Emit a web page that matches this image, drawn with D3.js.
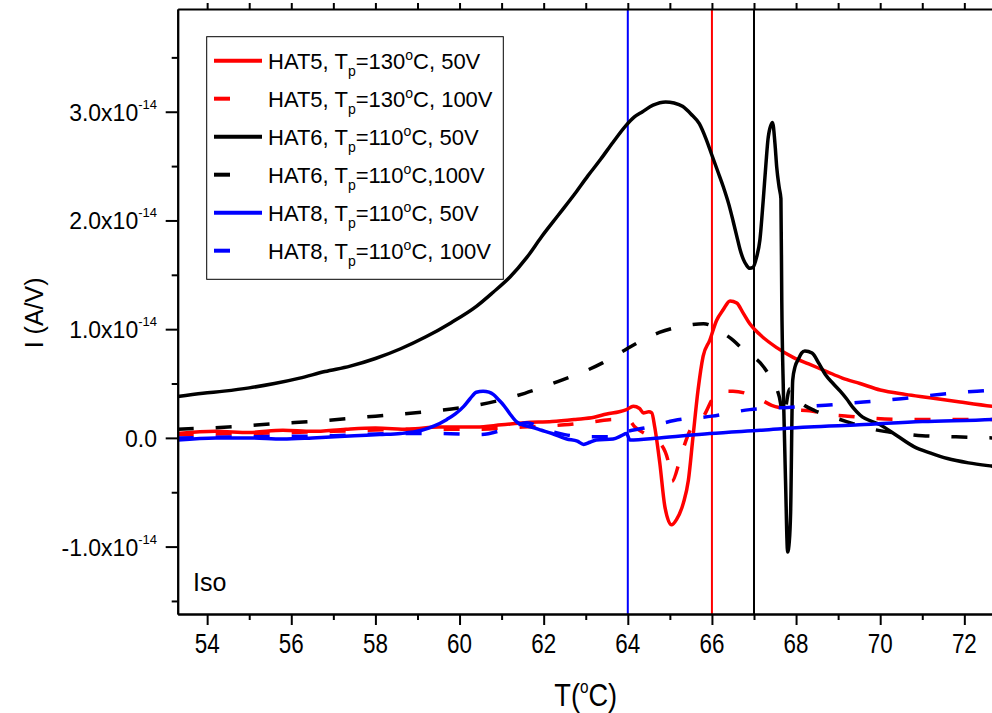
<!DOCTYPE html>
<html>
<head>
<meta charset="utf-8">
<script src="https://cdn.jsdelivr.net/npm/d3@7"></script>
<style>
body { margin: 0; background: #fff; }
svg { display: block; }
text { font-family: "Liberation Sans", Arial, sans-serif; fill: #000; }
</style>
</head>
<body>
<div id="chart"></div>
<script>
//
// TSC current vs temperature, values in units of 1e-14 A/V
//

// [T (degC), I (1e-14 A/V)]
var hat5_50V = [[53.3,0.04],[54.2,0.06],[55,0.05],[55.8,0.07],[56.5,0.06],[57.3,0.08],[58,0.09],[58.8,0.08],[59.5,0.10],[60.4,0.10],[61,0.12],[61.55,0.14],[62.2,0.15],[62.75,0.17],[63.2,0.19],[63.5,0.22],[63.8,0.24],[63.97,0.26],[64.13,0.29],[64.28,0.27],[64.37,0.23],[64.5,0.24],[64.57,0.23],[64.64,0.10],[64.76,-0.23],[64.88,-0.63],[65.04,-0.80],[65.16,-0.75],[65.32,-0.60],[65.44,-0.39],[65.55,0.01],[65.67,0.44],[65.79,0.75],[65.95,0.90],[66.11,1.08],[66.27,1.18],[66.43,1.26],[66.59,1.24],[66.74,1.15],[66.9,1.05],[67.14,0.95],[67.54,0.83],[67.93,0.74],[68.3,0.68],[68.73,0.61],[69.1,0.55],[69.52,0.50],[70.0,0.44],[70.6,0.40],[71.18,0.37],[71.9,0.33],[72.66,0.29],[73.1,0.27]];
var hat5_100V = [[53.3,0.03],[55,0.04],[57,0.06],[59,0.08],[60.5,0.08],[61.5,0.10],[62.5,0.12],[63.2,0.15],[63.65,0.17],[64.0,0.17],[64.17,0.10],[64.53,0.01],[64.81,-0.07],[64.95,-0.20],[65.05,-0.40],[65.24,-0.20],[65.36,-0.05],[65.52,0.10],[65.79,0.19],[66.0,0.35],[66.14,0.43],[66.5,0.43],[67.07,0.37],[67.42,0.30],[67.92,0.26],[68.32,0.25],[68.87,0.21],[69.23,0.20],[69.8,0.18],[70.5,0.17],[71.5,0.17],[73.1,0.17]];
var hat6_50V = [[53.3,0.38],[53.9,0.41],[54.4,0.43],[55.0,0.46],[55.6,0.50],[56.2,0.55],[56.8,0.61],[57.4,0.66],[58.0,0.73],[58.6,0.82],[59.2,0.93],[59.8,1.06],[60.4,1.21],[60.8,1.34],[61.2,1.48],[61.6,1.66],[61.95,1.85],[62.35,2.05],[62.75,2.25],[63.05,2.41],[63.35,2.56],[63.65,2.72],[63.95,2.87],[64.15,2.95],[64.35,3.00],[64.6,3.06],[64.9,3.09],[65.1,3.08],[65.3,3.05],[65.5,2.98],[65.7,2.89],[65.85,2.76],[66.0,2.60],[66.14,2.45],[66.27,2.31],[66.4,2.15],[66.5,2.00],[66.6,1.84],[66.67,1.73],[66.75,1.64],[66.82,1.59],[66.9,1.56],[66.98,1.57],[67.06,1.66],[67.14,1.82],[67.22,2.19],[67.28,2.50],[67.34,2.77],[67.44,2.90],[67.5,2.70],[67.54,2.49],[67.6,2.30],[67.64,2.20],[67.66,1.27],[67.7,0.40],[67.75,-0.40],[67.8,-1.05],[67.84,-0.95],[67.87,-0.69],[67.92,0.53],[67.98,0.66],[68.05,0.72],[68.13,0.78],[68.21,0.80],[68.38,0.78],[68.55,0.68],[68.7,0.58],[68.88,0.50],[69.05,0.43],[69.2,0.36],[69.35,0.28],[69.52,0.21],[70.0,0.12],[70.4,0.02],[70.8,-0.08],[71.2,-0.14],[71.6,-0.19],[72.1,-0.23],[72.66,-0.26],[73.1,-0.28]];
var hat6_100V = [[53.3,0.08],[54.5,0.10],[55.6,0.13],[56.8,0.16],[58.0,0.20],[59.2,0.24],[60.4,0.30],[61.0,0.35],[61.55,0.41],[62.35,0.52],[62.9,0.60],[63.4,0.69],[63.85,0.79],[64.3,0.89],[64.75,0.97],[65.2,1.02],[65.5,1.04],[65.8,1.05],[66.0,1.03],[66.2,0.98],[66.5,0.90],[66.8,0.79],[67.15,0.69],[67.4,0.55],[67.6,0.38],[67.7,0.20],[67.85,0.45],[68.1,0.33],[68.45,0.25],[68.8,0.20],[69.2,0.15],[69.6,0.10],[70.1,0.06],[70.5,0.04],[71.0,0.02],[71.8,0.01],[72.66,0.0],[73.1,0.0]];
var hat8_50V = [[53.3,-0.02],[54.2,0.0],[55,0.0],[55.8,-0.01],[56.5,0.0],[57.5,0.02],[58.1,0.03],[58.6,0.04],[59.1,0.07],[59.4,0.11],[59.7,0.17],[59.9,0.22],[60.1,0.29],[60.25,0.36],[60.4,0.42],[60.56,0.43],[60.7,0.42],[60.8,0.40],[60.93,0.35],[61.05,0.30],[61.2,0.22],[61.35,0.15],[61.5,0.12],[61.7,0.10],[61.95,0.07],[62.2,0.04],[62.55,-0.01],[62.8,-0.03],[62.95,-0.06],[63.1,-0.04],[63.25,-0.02],[63.65,-0.01],[63.85,0.02],[63.97,0.04],[64.05,-0.02],[64.75,0.0],[65.95,0.04],[67.15,0.07],[68.3,0.10],[69.5,0.12],[71.0,0.15],[72.66,0.17],[73.1,0.18]];
var hat8_100V = [[53.3,0.0],[55,0.01],[57,0.02],[58.5,0.04],[59.5,0.04],[60.5,0.03],[61.0,0.07],[61.3,0.11],[61.6,0.14],[62,0.08],[62.5,0.03],[63,0.01],[63.6,0.01],[64,0.06],[64.5,0.10],[65.1,0.16],[66.0,0.20],[66.9,0.26],[67.8,0.28],[68.7,0.30],[69.6,0.33],[70.5,0.36],[71.4,0.40],[72.3,0.43],[73.1,0.45]];

var seriesNames = ["HAT5", "HAT5", "HAT6", "HAT6", "HAT8", "HAT8"];
var seriesTp = ["130", "130", "110", "110", "110", "110"];
var seriesVolt = [", 50V", ", 100V", ", 50V", ",100V", ", 50V", ", 100V"];
var seriesData = [hat5_50V, hat5_100V, hat6_50V, hat6_100V, hat8_50V, hat8_100V];

var markerTemps = [64, 66, 67];

var xMajor = [54, 56, 58, 60, 62, 64, 66, 68, 70, 72];
var xMinor = [55, 57, 59, 61, 63, 65, 67, 69, 71, 73];
var yMajor = [-1, 0, 1, 2, 3];
var yMinor = [-1.5, -0.5, 0.5, 1.5, 2.5, 3.5];

const _width = 992;
const _height = 713;
const _plotLeft = 177.7;
const _plotRight = 1010.6;
const _plotTop = 9;
const _plotBottom = 614;

var _colors = ['#ff0000', '#ff0000', '#000000', '#000000', '#0000ff', '#0000ff'];
var _markerColors = ['#0000ff', '#ff0000', '#000000'];
var _dashed = [false, true, false, true, false, true];

var svg = d3.select("#chart").append("svg")
    .attr("width", _width)
    .attr("height", _height);

svg.append("rect").attr("width", _width).attr("height", _height).attr("fill", "#fff");

var x = d3.scaleLinear().domain([53.3, 73.1]).range([_plotLeft, _plotRight]);
var y = d3.scaleLinear().domain([-1.62, 3.945]).range([_plotBottom, _plotTop]);

svg.append("clipPath").attr("id", "plotClip")
    .append("rect")
    .attr("x", _plotLeft).attr("y", _plotTop)
    .attr("width", _plotRight - _plotLeft).attr("height", _plotBottom - _plotTop);

// vertical markers
svg.append("g")
    .selectAll("line")
    .data(markerTemps)
    .join("line")
    .attr("x1", d => x(d)).attr("x2", d => x(d))
    .attr("y1", _plotTop).attr("y2", _plotBottom)
    .attr("stroke", (d, i) => _markerColors[i])
    .attr("stroke-width", 2);

// curves
var line = d3.line()
    .x(d => x(d[0]))
    .y(d => y(d[1]))
    .curve(d3.curveMonotoneX);

svg.append("g")
    .attr("clip-path", "url(#plotClip)")
    .selectAll("path")
    .data(seriesData)
    .join("path")
    .attr("fill", "none")
    .attr("stroke", (d, i) => _colors[i])
    .attr("stroke-width", 3.5)
    .attr("stroke-linejoin", "round")
    .attr("stroke-dasharray", (d, i) => _dashed[i] ? "16,22" : null)
    .attr("d", d => line(d));

// axes
function styleAxis(g) {
    g.selectAll("path").attr("stroke", "#000").attr("stroke-width", 2);
    g.selectAll("line").attr("stroke", "#000").attr("stroke-width", 2);
    g.selectAll("text").remove();
}

svg.append("g")
    .attr("transform", "translate(0," + _plotBottom + ")")
    .call(d3.axisBottom(x).tickValues(xMajor).tickSize(11).tickSizeOuter(0).tickFormat(""))
    .call(styleAxis);
svg.append("g")
    .attr("transform", "translate(0," + _plotBottom + ")")
    .call(d3.axisBottom(x).tickValues(xMinor).tickSize(6).tickSizeOuter(0).tickFormat(""))
    .call(styleAxis);
svg.append("g")
    .attr("transform", "translate(0," + _plotTop + ")")
    .call(d3.axisTop(x).tickValues(xMajor.concat(xMinor)).tickSize(6).tickSizeOuter(0).tickFormat(""))
    .call(styleAxis);
svg.append("g")
    .attr("transform", "translate(" + _plotLeft + ",0)")
    .call(d3.axisLeft(y).tickValues(yMajor).tickSize(12).tickSizeOuter(0).tickFormat(""))
    .call(styleAxis);
svg.append("g")
    .attr("transform", "translate(" + _plotLeft + ",0)")
    .call(d3.axisLeft(y).tickValues(yMinor).tickSize(6).tickSizeOuter(0).tickFormat(""))
    .call(styleAxis);

// x tick labels (narrow face)
svg.append("g")
    .selectAll("text")
    .data(xMajor)
    .join("text")
    .attr("transform", d => "translate(" + x(d) + ",653) scale(0.8,1)")
    .attr("text-anchor", "middle")
    .style("font-size", "28px")
    .text(d => d);

// y tick labels
var yLab = svg.append("g")
    .selectAll("text")
    .data(yMajor)
    .join("text")
    .attr("x", 157)
    .attr("y", d => y(d) + 9)
    .attr("text-anchor", "end")
    .style("font-size", "23px");
yLab.append("tspan").text(d => d == 0 ? "0.0" : d.toFixed(1) + "x10");
yLab.filter(d => d != 0).append("tspan")
    .attr("dy", -12)
    .style("font-size", "13px")
    .text("-14");

// axis titles
svg.append("text")
    .attr("transform", "translate(" + x(63) + ",706) scale(0.85,1)")
    .attr("text-anchor", "middle")
    .style("font-size", "32px")
    .call(t => {
        t.append("tspan").text("T(");
        t.append("tspan").attr("dy", -13).style("font-size", "18px").text("o");
        t.append("tspan").attr("dy", 13).text("C)");
    });

svg.append("text")
    .attr("transform", "translate(43," + y(1.15) + ") rotate(-90)")
    .attr("text-anchor", "middle")
    .style("font-size", "25px")
    .text("I (A/V)");

svg.append("text")
    .attr("x", 193)
    .attr("y", 591)
    .style("font-size", "25px")
    .text("Iso");

// legend
var legendX = 206.7, legendY = 36.7, legendRow = 38;
svg.append("rect")
    .attr("x", legendX).attr("y", legendY)
    .attr("width", 296.6).attr("height", 242.6)
    .attr("fill", "#fff").attr("stroke", "#000").attr("stroke-width", 1);

var legend = svg.append("g")
    .selectAll("g")
    .data(seriesData)
    .join("g")
    .attr("transform", (d, i) => "translate(0," + (legendY + 24 + i * legendRow) + ")");

legend.append("line")
    .attr("x1", 214).attr("x2", (d, i) => _dashed[i] ? 230 : 262)
    .attr("y1", 0).attr("y2", 0)
    .attr("stroke", (d, i) => _colors[i])
    .attr("stroke-width", 4);

var legendText = legend.append("text")
    .attr("x", 268)
    .attr("y", 8)
    .style("font-size", "22px");
legendText.append("tspan").text((d, i) => seriesNames[i] + ", T");
legendText.append("tspan").attr("dy", 7).style("font-size", "14px").text("p");
legendText.append("tspan").attr("dy", -7).text((d, i) => "=" + seriesTp[i]);
legendText.append("tspan").attr("dy", -9).style("font-size", "14px").text("o");
legendText.append("tspan").attr("dy", 9).text((d, i) => "C" + seriesVolt[i]);
</script>
</body>
</html>
